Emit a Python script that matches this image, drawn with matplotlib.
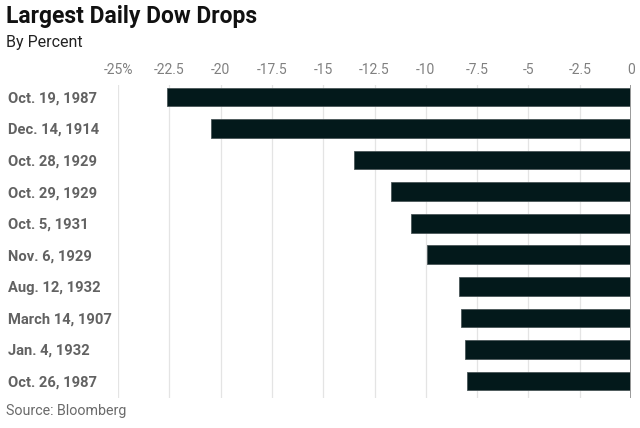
import matplotlib
matplotlib.use("Agg")
import matplotlib.pyplot as plt

plt.rcParams["font.family"] = ["Roboto", "DejaVu Sans"]

dates = [
    "Oct. 19, 1987",
    "Dec. 14, 1914",
    "Oct. 28, 1929",
    "Oct. 29, 1929",
    "Oct. 5, 1931",
    "Nov. 6, 1929",
    "Aug. 12, 1932",
    "March 14, 1907",
    "Jan. 4, 1932",
    "Oct. 26, 1987",
]
drops = [-22.61, -20.49, -13.5, -11.7, -10.71, -9.92, -8.38, -8.28, -8.07, -7.97]
ticks = [-25, -22.5, -20, -17.5, -15, -12.5, -10, -7.5, -5, -2.5, 0]
tick_labels = ["-25%", "-22.5", "-20", "-17.5", "-15", "-12.5", "-10",
               "-7.5", "-5", "-2.5", "0"]

W, H = 640, 428
fig = plt.figure(figsize=(W / 100, H / 100), dpi=100)
ax = fig.add_axes([118 / W, 30 / H, (631 - 118) / W, (398 - 85) / H])

ypos = list(range(len(dates)))
ax.barh(ypos, drops, height=0.59, color="#03191b",
        edgecolor="#4a5658", linewidth=0.6, zorder=3)

ax.set_xlim(-25, 0)
ax.set_ylim(9.54, -0.38)
ax.axvline(0, color="#9a9a9a", lw=1.4, zorder=4)

ax.xaxis.tick_top()
ax.set_xticks(ticks)
ax.set_xticklabels(tick_labels, fontsize=10, color="#808080")
ax.tick_params(axis="x", length=0, pad=6)
ax.grid(axis="x", color="#e4e4e4", lw=0.9, zorder=0)

ax.set_yticks(ypos)
ax.set_yticklabels(dates, fontsize=10.6, fontweight="bold",
                   color="#626262", ha="left")
ax.tick_params(axis="y", length=0, pad=79)

for s in ax.spines.values():
    s.set_visible(False)

fig.text(6 / W, 1 - 17 / H, "Largest Daily Dow Drops", fontsize=16.5,
         fontweight="bold", color="#111111", va="center", ha="left")
fig.text(6 / W, 1 - 42 / H, "By Percent", fontsize=11.5,
         color="#222222", va="center", ha="left")
fig.text(6 / W, 1 - 411 / H, "Source: Bloomberg", fontsize=10.3,
         color="#6a6a6a", va="center", ha="left")

fig.savefig("out.png", dpi=100)
